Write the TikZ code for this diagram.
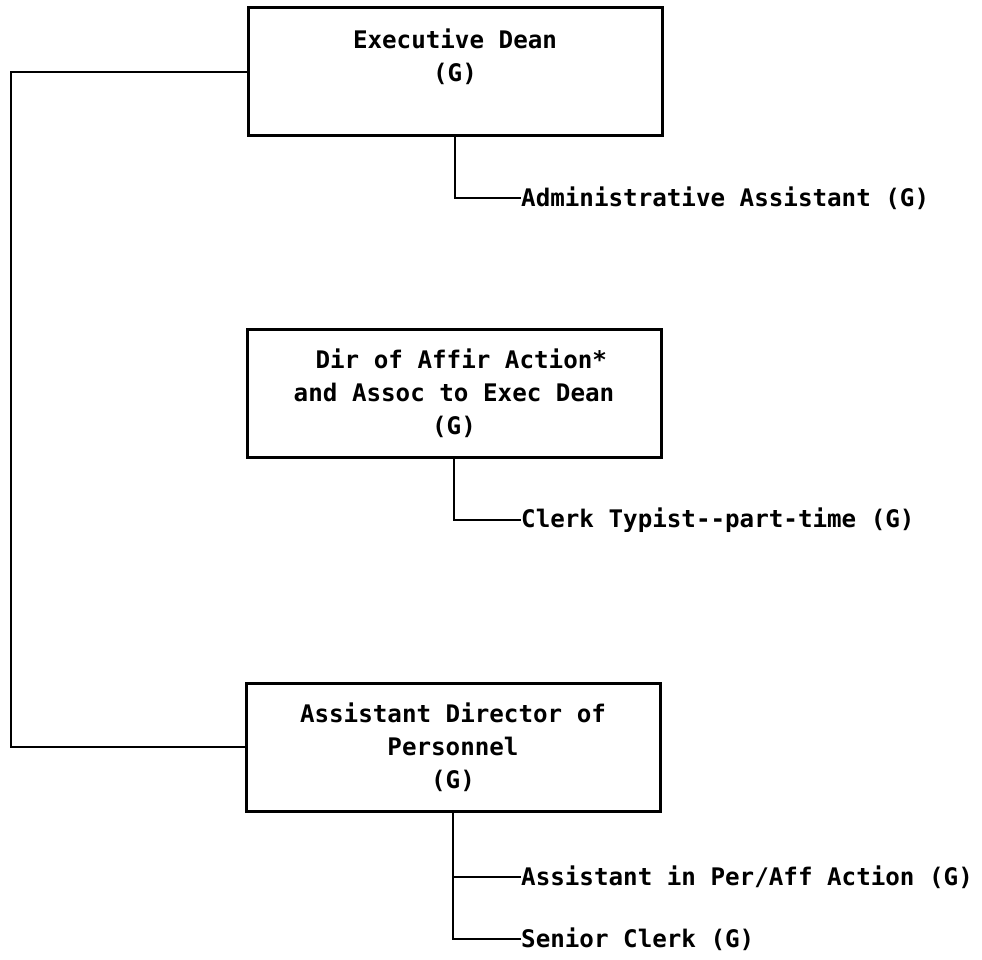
\documentclass[tikz,border=0pt]{standalone}
\usepackage{fontspec}
\newfontfamily\chartfont{DejaVu Sans Mono}
\usetikzlibrary{positioning,calc}
\tikzset{
  posbox/.style={draw=black, line width=3pt, inner sep=0pt,
                 minimum width=414pt, minimum height=128pt, align=center,
                 font=\chartfont\bfseries\fontsize{24.2}{33}\selectfont},
  staffname/.style={anchor=west, inner sep=0pt,
                    font=\chartfont\bfseries\fontsize{24.2}{33}\selectfont},
  link/.style={line width=2.5pt, black},
}

\begin{document}
\begin{tikzpicture}[x=1pt,y=-1pt]
  \useasboundingbox (0,0) rectangle (982,960);

  % Executive Dean and his assistant
  \node[posbox] (exec) at (455,72) {Executive Dean\\(G)\\\mbox{}};
  \node[staffname] (admin) at (521,198) {Administrative Assistant (G)};

  % Affirmative action office
  \node[posbox] (affir) at (454,393)
        {\phantom{D}Dir of Affir Action*\\and Assoc to Exec Dean\\(G)};
  \node[staffname] (typist) at (521,520) {Clerk Typist-\kern0pt-part-time (G)};

  % Personnel office
  \node[posbox] (apd) at (453,747) {Assistant Director of\\Personnel\\(G)};
  \node[staffname] (perass) at (521,877) {Assistant in Per/Aff Action (G)};
  \node[staffname] (senior) at (521,939) {Senior Clerk (G)};

  % connectors
  \coordinate (spine) at (11,0);
  \draw[link] (exec.west) -- (exec.west -| spine) |- (apd.west);
  \draw[link] (exec.south) |- (admin.west);
  \draw[link] (affir.south) |- (typist.west);
  \draw[link] (apd.south) |- (senior.west);
  \draw[link] (apd.south |- perass.west) -- (perass.west);

\end{tikzpicture}
\end{document}
